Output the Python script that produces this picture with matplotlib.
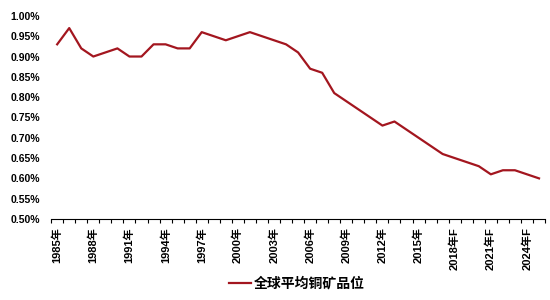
import matplotlib
matplotlib.use("Agg")
import matplotlib.pyplot as plt
from matplotlib.ticker import FuncFormatter, FixedLocator

years = list(range(1985, 2026))
grade = [0.93, 0.97, 0.92, 0.90, 0.91, 0.92, 0.90, 0.90, 0.93, 0.93,
         0.92, 0.92, 0.96, 0.95, 0.94, 0.95, 0.96, 0.95, 0.94, 0.93,
         0.91, 0.87, 0.86, 0.81, 0.79, 0.77, 0.75, 0.73, 0.74, 0.72,
         0.70, 0.68, 0.66, 0.65, 0.64, 0.63, 0.61, 0.62, 0.62, 0.61,
         0.60]
forecast_from = 2018
label_every = 3
series_name = "全球平均铜矿品位"

FONTS = ["Liberation Sans", "Noto Sans CJK SC", "DejaVu Sans"]
plt.rcParams["font.family"] = FONTS

labels = [f"{y}年F" if y >= forecast_from else f"{y}年" for y in years]
x = list(range(len(years)))

fig = plt.figure(figsize=(5.5, 3.0), dpi=100)
ax = fig.add_axes([0.093, 0.27, 0.898, 0.677])
ax.plot(x, grade, color="#A3161F", lw=1.6, label=series_name)

ax.set_xlim(-0.5, len(years) - 0.5)
ax.set_ylim(0.50, 1.00)
ax.set_yticks([0.50 + 0.05 * i for i in range(11)])
ax.yaxis.set_major_formatter(FuncFormatter(lambda v, p: f"{v:.2f}%"))
ax.tick_params(axis="y", length=0, pad=8, labelsize=7.5)

ax.xaxis.set_major_locator(FixedLocator(x[::label_every]))
ax.set_xticklabels(labels[::label_every], rotation=90, fontsize=8, fontweight="bold")
ax.xaxis.set_minor_locator(FixedLocator([i - 0.5 for i in range(len(years) + 1)]))
ax.tick_params(axis="x", which="major", length=0, pad=6)
ax.tick_params(axis="x", which="minor", length=3, width=0.8, direction="out")
for t in ax.get_yticklabels():
    t.set_fontweight("bold")

for s in ["top", "right", "left"]:
    ax.spines[s].set_visible(False)
ax.spines["bottom"].set_linewidth(0.8)

fig.legend(loc="center", bbox_to_anchor=(0.54, 0.055), frameon=False,
           prop={"family": FONTS, "size": 10, "weight": "bold"},
           handlelength=1.6, handletextpad=0.2)

fig.savefig("out.png", dpi=100)
